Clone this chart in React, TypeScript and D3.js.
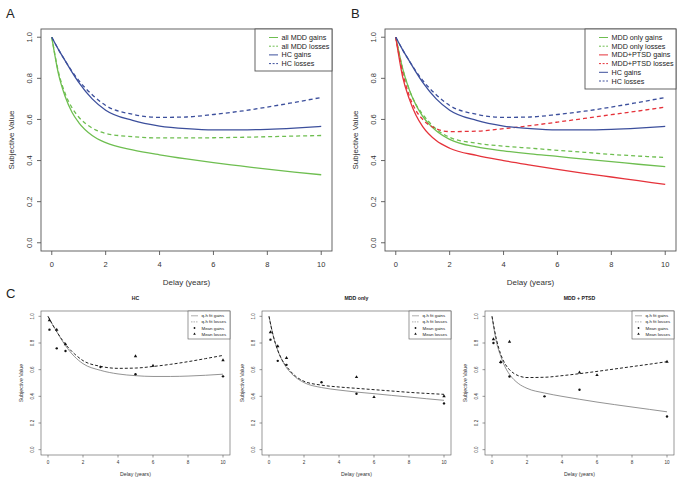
import React from "react";
import * as d3 from "d3";

// ---------- data ----------
const delays = [0, 0.25, 0.5, 0.75, 1, 1.5, 2, 3, 4, 5, 6, 7, 8, 9, 10];

const hcGains = [1, 0.94, 0.885, 0.83, 0.78, 0.7, 0.645, 0.595, 0.568, 0.555, 0.549, 0.549, 0.552, 0.558, 0.566];
const hcLosses = [1, 0.94, 0.885, 0.835, 0.79, 0.72, 0.668, 0.625, 0.61, 0.612, 0.624, 0.64, 0.66, 0.683, 0.707];
const allMddGains = [1, 0.82, 0.71, 0.635, 0.585, 0.522, 0.487, 0.452, 0.428, 0.408, 0.39, 0.374, 0.358, 0.344, 0.331];
const allMddLosses = [1, 0.83, 0.725, 0.657, 0.612, 0.558, 0.532, 0.516, 0.51, 0.51, 0.511, 0.513, 0.516, 0.519, 0.522];
const mddOnlyGains = [1, 0.85, 0.745, 0.67, 0.615, 0.545, 0.503, 0.466, 0.447, 0.432, 0.42, 0.407, 0.395, 0.382, 0.37];
const mddOnlyLosses = [1, 0.85, 0.745, 0.672, 0.625, 0.553, 0.513, 0.484, 0.47, 0.46, 0.45, 0.44, 0.43, 0.422, 0.415];
const ptsdGains = [1, 0.81, 0.7, 0.62, 0.565, 0.497, 0.46, 0.425, 0.4, 0.378, 0.357, 0.338, 0.32, 0.302, 0.284];
const ptsdLosses = [1, 0.83, 0.715, 0.643, 0.6, 0.555, 0.541, 0.543, 0.555, 0.57, 0.587, 0.605, 0.623, 0.641, 0.66];

const meanGainDelays = [0.083, 0.5, 1, 3, 5, 10];
const meanLossDelays = [0.083, 0.5, 1, 5, 6, 10];
const hcMeanGains = [0.9, 0.76, 0.74, 0.62, 0.566, 0.55];
const hcMeanLosses = [0.97, 0.9, 0.79, 0.7, 0.63, 0.67];
const mddOnlyMeanGains = [0.825, 0.666, 0.636, 0.506, 0.419, 0.347];
const mddOnlyMeanLosses = [0.88, 0.776, 0.688, 0.544, 0.394, 0.4];
const ptsdMeanGains = [0.8, 0.655, 0.549, 0.4, 0.449, 0.249];
const ptsdMeanLosses = [0.828, 0.658, 0.81, 0.579, 0.559, 0.66];

const xTicks = [0, 2, 4, 6, 8, 10];
const yTicks = [0, 0.2, 0.4, 0.6, 0.8, 1.0];
const yTickLabels = ["0.0", "0.2", "0.4", "0.6", "0.8", "1.0"];

const legendA = ["all MDD gains", "all MDD losses", "HC gains", "HC losses"];
const legendB = ["MDD only gains", "MDD only losses", "MDD+PTSD gains", "MDD+PTSD losses", "HC gains", "HC losses"];
const legendC = ["q-h fit gains", "q-h fit losses", "Mean gains", "Mean losses"];
const subTitles = ["HC", "MDD only", "MDD + PTSD"];

// ---------- styles ----------
const GREEN = "#6ebe50";
const BLUE = "#3c4f9c";
const RED = "#e5323a";
const AXIS = "#555";
const FONT = "Liberation Sans, Arial, sans-serif";

type Series = { values: number[]; color: string; dashed: boolean };

function makeScales(box: { l: number; r: number; t: number; b: number }) {
  const x = d3.scaleLinear().domain([-0.4, 10.4]).range([box.l, box.r]);
  const y = d3.scaleLinear().domain([-0.04, 1.04]).range([box.b, box.t]);
  return { x, y };
}

function Axes({ box, x, y, fs, tickLen, yTickX, yTitleX, xTickY, xTitleY, sw }: any) {
  return (
    <g fontFamily={FONT} fill="#333">
      <rect x={box.l} y={box.t} width={box.r - box.l} height={box.b - box.t} fill="none" stroke={AXIS} strokeWidth={sw} />
      {xTicks.map((t) => (
        <g key={"x" + t}>
          <line x1={x(t)} x2={x(t)} y1={box.b} y2={box.b + tickLen} stroke={AXIS} strokeWidth={sw} />
          <text x={x(t)} y={xTickY} dy="0.35em" fontSize={fs.tick} textAnchor="middle">
            {t}
          </text>
        </g>
      ))}
      {yTicks.map((t, i) => (
        <g key={"y" + t}>
          <line x1={box.l - tickLen} x2={box.l} y1={y(t)} y2={y(t)} stroke={AXIS} strokeWidth={sw} />
          <text transform={`translate(${yTickX},${y(t)}) rotate(-90)`} dy="0.35em" fontSize={fs.tick} textAnchor="middle">
            {yTickLabels[i]}
          </text>
        </g>
      ))}
      <text x={(box.l + box.r) / 2} y={xTitleY} dy="0.35em" fontSize={fs.title} textAnchor="middle">
        Delay (years)
      </text>
      <text
        transform={`translate(${yTitleX},${(box.t + box.b) / 2}) rotate(-90)`}
        dy="0.35em"
        fontSize={fs.title}
        textAnchor="middle"
      >
        Subjective Value
      </text>
    </g>
  );
}

function BigPanel({ box, series, legend, legendBox, letter, letterX }: any) {
  const { x, y } = makeScales(box);
  const line = d3
    .line<number>()
    .x((_, i) => x(delays[i]))
    .y((d) => y(d))
    .curve(d3.curveMonotoneX);
  const rowH = 8.7;
  return (
    <g>
      <text x={letterX} y={13} dy="0.35em" fontSize={13} fontFamily={FONT} fill="#222">
        {letter}
      </text>
      <Axes
        box={box}
        x={x}
        y={y}
        fs={{ tick: 7.5, title: 8 }}
        tickLen={4}
        yTickX={box.l - 12}
        yTitleX={box.l - 30}
        xTickY={box.b + 13}
        xTitleY={box.b + 31}
        sw={0.9}
      />
      {series.map((s: Series, i: number) => (
        <path
          key={i}
          d={line(s.values) || ""}
          fill="none"
          stroke={s.color}
          strokeWidth={1.3}
          strokeDasharray={s.dashed ? "4,3" : undefined}
        />
      ))}
      <rect
        x={legendBox.l}
        y={box.t}
        width={box.r - legendBox.l}
        height={legendBox.h}
        fill="white"
        stroke={AXIS}
        strokeWidth={0.9}
      />
      {legend.map((lab: string, i: number) => {
        const yy = box.t + 8.5 + i * rowH;
        const s: Series = series[i];
        return (
          <g key={lab}>
            <line
              x1={legendBox.l + 14}
              x2={legendBox.l + 23}
              y1={yy}
              y2={yy}
              stroke={s.color}
              strokeWidth={1}
              strokeDasharray={s.dashed ? "2,1.6" : undefined}
            />
            <text x={legendBox.l + 26.5} y={yy} dy="0.35em" fontSize={7.2} fontFamily={FONT} fill="#222">
              {lab}
            </text>
          </g>
        );
      })}
    </g>
  );
}

function SmallPanel({ box, gains, losses, meanG, meanL, title }: any) {
  const { x, y } = makeScales(box);
  const line = d3
    .line<number>()
    .x((_, i) => x(delays[i]))
    .y((d) => y(d))
    .curve(d3.curveMonotoneX);
  const tri = d3.symbol().type(d3.symbolTriangle).size(5)();
  const lgL = box.r - 42;
  const rows = [box.t + 4.8, box.t + 10.9, box.t + 17, box.t + 23.1];
  return (
    <g>
      <text
        x={(box.l + box.r) / 2}
        y={box.t - 13}
        dy="0.35em"
        fontSize={5.2}
        fontWeight="bold"
        fontFamily={FONT}
        textAnchor="middle"
        fill="#222"
      >
        {title}
      </text>
      <Axes
        box={box}
        x={x}
        y={y}
        fs={{ tick: 4.6, title: 5.2 }}
        tickLen={2.5}
        yTickX={box.l - 8.5}
        yTitleX={box.l - 19.5}
        xTickY={box.b + 7.7}
        xTitleY={box.b + 19}
        sw={0.6}
      />
      <path d={line(gains) || ""} fill="none" stroke="#777" strokeWidth={0.8} />
      <path d={line(losses) || ""} fill="none" stroke="#222" strokeWidth={1} strokeDasharray="3,2" />
      {meanG.map((v: number, i: number) => (
        <circle key={"g" + i} cx={x(meanGainDelays[i])} cy={y(v)} r={1.2} fill="#111" />
      ))}
      {meanL.map((v: number, i: number) => (
        <path key={"l" + i} d={tri || ""} transform={`translate(${x(meanLossDelays[i])},${y(v)})`} fill="#111" />
      ))}
      <rect x={lgL} y={box.t} width={box.r - lgL} height={28} fill="white" stroke={AXIS} strokeWidth={0.6} />
      <line x1={lgL + 3} x2={lgL + 10} y1={rows[0]} y2={rows[0]} stroke="#777" strokeWidth={0.6} />
      <line x1={lgL + 3} x2={lgL + 10} y1={rows[1]} y2={rows[1]} stroke="#777" strokeWidth={0.6} strokeDasharray="1.5,1" />
      <circle cx={lgL + 6.5} cy={rows[2]} r={0.9} fill="#111" />
      <path d={d3.symbol().type(d3.symbolTriangle).size(3)() || ""} transform={`translate(${lgL + 6.5},${rows[3]})`} fill="#111" />
      {legendC.map((lab, i) => (
        <text key={lab} x={lgL + 13.5} y={rows[i]} dy="0.35em" fontSize={4.4} fontFamily={FONT} fill="#222">
          {lab}
        </text>
      ))}
    </g>
  );
}

export default function App() {
  const seriesA: Series[] = [
    { values: allMddGains, color: GREEN, dashed: false },
    { values: allMddLosses, color: GREEN, dashed: true },
    { values: hcGains, color: BLUE, dashed: false },
    { values: hcLosses, color: BLUE, dashed: true },
  ];
  const seriesB: Series[] = [
    { values: mddOnlyGains, color: GREEN, dashed: false },
    { values: mddOnlyLosses, color: GREEN, dashed: true },
    { values: ptsdGains, color: RED, dashed: false },
    { values: ptsdLosses, color: RED, dashed: true },
    { values: hcGains, color: BLUE, dashed: false },
    { values: hcLosses, color: BLUE, dashed: true },
  ];
  const cTop = 311;
  const cBot = 455;
  const small = [
    { l: 41, r: 230, gains: hcGains, losses: hcLosses, mg: hcMeanGains, ml: hcMeanLosses },
    { l: 262, r: 451, gains: mddOnlyGains, losses: mddOnlyLosses, mg: mddOnlyMeanGains, ml: mddOnlyMeanLosses },
    { l: 485, r: 674, gains: ptsdGains, losses: ptsdLosses, mg: ptsdMeanGains, ml: ptsdMeanLosses },
  ];
  return (
    <svg width={683} height={484} style={{ position: "absolute", left: 0, top: 0, background: "white" }}>
      <rect x={0} y={0} width={683} height={484} fill="white" />
      <BigPanel
        box={{ l: 41, r: 332, t: 29, b: 251 }}
        series={seriesA}
        legend={legendA}
        legendBox={{ l: 255, h: 42 }}
        letter="A"
        letterX={6}
      />
      <BigPanel
        box={{ l: 385, r: 676, t: 29, b: 251 }}
        series={seriesB}
        legend={legendB}
        legendBox={{ l: 585, h: 60 }}
        letter="B"
        letterX={351}
      />
      <text x={6} y={293} dy="0.35em" fontSize={13} fontFamily={FONT} fill="#222">
        C
      </text>
      {small.map((p, i) => (
        <SmallPanel
          key={i}
          box={{ l: p.l, r: p.r, t: cTop, b: cBot }}
          gains={p.gains}
          losses={p.losses}
          meanG={p.mg}
          meanL={p.ml}
          title={subTitles[i]}
        />
      ))}
    </svg>
  );
}
